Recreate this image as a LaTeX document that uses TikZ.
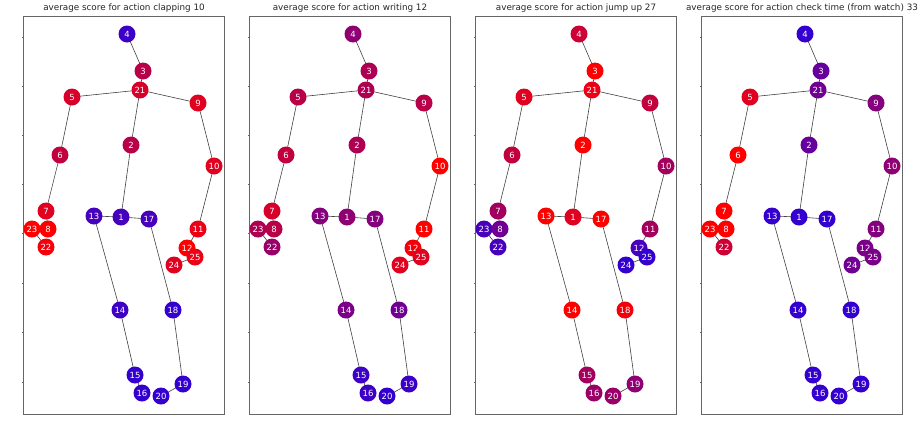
\documentclass[tikz,border=0pt]{standalone}
\usepackage{fontspec}
\setmainfont{DejaVu Sans}
\usetikzlibrary{backgrounds}
\colorlet{nb}{rgb,255:red,51;green,0;blue,208}
\newcommand\setsc[2]{\foreach \j/\s in {#2}{\expandafter\xdef\csname sc#1-\j\endcsname{\s}}}
\setsc{1}{4/5,3/65,21/80,5/80,9/85,2/65,6/70,10/85,7/85,13/10,1/10,17/10,23/100,8/100,11/90,22/95,12/100,25/90,24/85,14/5,18/0,15/0,19/0,16/0,20/0}
\setsc{2}{4/45,3/60,21/60,5/65,9/65,2/60,6/70,10/100,7/80,13/40,1/45,17/40,23/60,8/65,22/50,11/100,12/95,25/85,24/85,14/35,18/30,15/5,16/5,20/0,19/5}
\setsc{3}{4/75,3/100,21/90,5/85,9/70,2/100,6/70,10/55,7/55,13/100,1/85,17/100,23/10,8/30,22/10,11/55,12/10,25/0,24/0,14/100,18/95,15/55,16/50,20/50,19/45}
\setsc{4}{4/0,3/25,21/30,5/85,9/40,2/25,6/100,10/45,7/100,13/0,1/0,17/0,23/100,8/100,22/75,11/40,12/35,25/35,24/30,14/0,18/0,15/0,16/0,19/0,20/0}
\begin{document}
\begin{tikzpicture}[x=1pt,y=-1pt,
  jt/.style={circle,inner sep=0pt,minimum size=17pt,text=white,font=\fontsize{8.5}{9}\selectfont},
  edge/.style={draw=black!75,line width=0.6pt},
  frame/.style={draw=black!60,line width=0.8pt},
  ttl/.style={font=\fontsize{8.8}{10}\selectfont,text=black!85}]
\useasboundingbox (0,0) rectangle (921,421);
\foreach \p/\t in {1/{average score for action clapping 10},2/{average score for action writing 12},3/{average score for action jump up 27},4/{average score for action check time (from watch) 33}}{
  \pgfmathsetmacro\ox{(\p-1)*226}
  \node[ttl] (t\p) at (124+\ox,8.5) {\t};
  \draw[frame] (23.5+\ox,16.5) rectangle (224+\ox,414);
  \foreach \ty in {37,86,135,184,233,283,332,382}
    \draw[black!60,line width=0.5pt] (23.5+\ox,\ty) -- (21.5+\ox,\ty);
  \foreach \j/\x/\y in {4/127/34,3/143/71,21/140/90,5/72/97,9/198/103,2/131/145,6/60/155,10/214/166,7/46/211,13/94/216,1/121/217,17/149/219,23/32/229,8/48/229,11/198/229,22/46/247,12/187/248,25/195/257,24/174/265,14/120/310,18/173/310,15/135/375,19/183/384,16/142/393,20/161/396}{
    \edef\s{\csname sc\p-\j\endcsname}
    \node[jt,fill=red!\s!nb] (p\p n\j) at (\x+\ox,\y) {\j};
  }
  \begin{scope}[on background layer]
  \foreach \a/\b in {1/2,2/21,3/21,4/3,5/21,6/5,7/6,8/7,9/21,10/9,11/10,12/11,13/1,14/13,15/14,16/15,17/1,18/17,19/18,20/19,22/23,23/8,24/25,25/12}
    \draw[edge] (p\p n\a.center) -- (p\p n\b.center);
  \end{scope}
}
\end{tikzpicture}
\end{document}
